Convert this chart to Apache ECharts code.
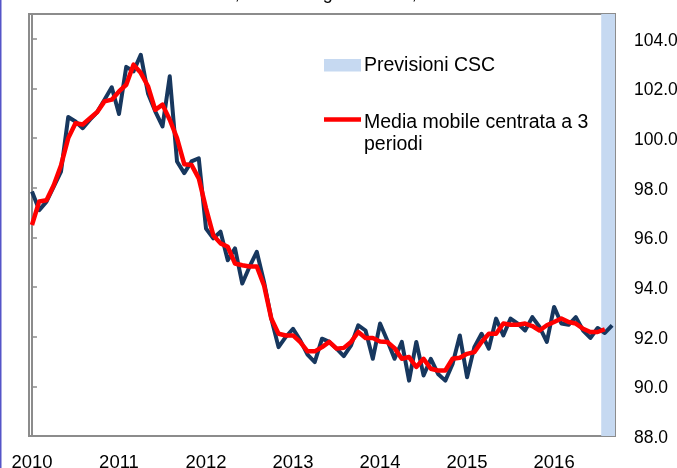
<!DOCTYPE html>
<html><head><meta charset="utf-8">
<script src="https://cdn.jsdelivr.net/npm/echarts@6/dist/echarts.min.js"></script>
<style>html,body{margin:0;padding:0;background:#fff}#c{width:677px;height:468px}</style>
</head><body><div id="c"></div>
<script>
// Month index 0 = Jan 2010
const yearLabels = ['2010','2011','2012','2013','2014','2015','2016'];
const yearTickMonths = [0,12,24,36,48,60,72];
const yTicks = [88,90,92,94,96,98,100,102,104];
const rawIndex = [
97.85,97.1,97.44,98.05,98.65,100.85,100.67,100.4,100.74,101.05,101.55,102.05,
100.97,102.87,102.69,103.36,101.8,101.08,100.47,102.49,99.06,98.59,99.06,99.19,
96.36,95.96,96.23,95.08,95.56,94.14,94.82,95.42,94.21,92.73,91.58,91.99,
92.32,91.85,91.28,90.98,91.92,91.79,91.52,91.22,91.65,92.46,92.25,91.11,
92.53,91.85,91.11,91.79,90.23,91.79,90.44,91.11,90.5,90.23,90.9,92.05,
90.37,91.58,92.12,91.52,92.73,92.05,92.73,92.53,92.25,92.79,92.39,91.79,
93.2,92.53,92.48,92.79,92.25,91.95,92.35,92.15,92.46
];
const movingAvg = [
96.5,97.45,97.5,98.1,98.9,100.0,100.6,100.55,100.8,101.05,101.48,101.55,
101.88,102.15,102.96,102.63,102.09,101.14,101.35,100.74,100.0,98.95,98.92,98.38,
97.17,96.09,95.76,95.62,94.95,94.88,94.83,94.83,94.07,92.73,92.12,92.05,
92.05,91.78,91.41,91.41,91.58,91.79,91.52,91.55,91.79,92.19,91.95,91.95,
91.81,91.79,91.54,91.11,91.18,90.78,91.11,90.71,90.64,90.64,91.11,91.15,
91.31,91.38,91.79,92.12,92.12,92.53,92.48,92.48,92.53,92.43,92.25,92.46,
92.59,92.73,92.59,92.53,92.32,92.19,92.19,92.3
];
const forecastMonths = [79, 80];
const legendNames = ['Previsioni CSC', 'Media mobile centrata a 3\nperiodi'];
const titleText = 'Indice totale, dati destagionalizzati, base 2010=100';

const chart = echarts.init(document.getElementById('c'), null, {renderer:'canvas'});
const rawData = rawIndex.map((v,i)=>[i,v]);
const maData = movingAvg.map((v,i)=>[i,v]);
const xMin = -0.41, xMax = 80.4;

chart.setOption({
  animation:false,
  backgroundColor:'#fff',
  textStyle:{fontFamily:'Liberation Sans, Arial, sans-serif'},
  grid:{left:29,right:62,top:14,bottom:32,show:true,borderColor:'#8c8c8c',borderWidth:2,backgroundColor:'transparent',
    containLabel:false,outerBoundsMode:'none'},
  xAxis:{type:'value',min:xMin,max:xMax,
    axisLine:{show:false},axisTick:{show:false},splitLine:{show:false},
    axisLabel:{customValues:yearTickMonths,formatter:v=>yearLabels[yearTickMonths.indexOf(Math.round(v))]||'',
      color:'#000',fontSize:18.5,margin:17,fontFamily:'Liberation Sans, Arial, sans-serif'}},
  yAxis:{type:'value',position:'right',min:88,max:105,
    axisLine:{show:true,lineStyle:{color:'#8c8c8c',width:2}},
    axisTick:{show:true,customValues:yTicks,length:5,lineStyle:{color:'#8c8c8c',width:1.5}},
    splitLine:{show:false},
    axisLabel:{customValues:yTicks,formatter:v=>v.toFixed(1),color:'#000',fontSize:17.5,margin:19,
      verticalAlign:'top',padding:[-7,0,0,0],fontFamily:'Liberation Sans, Arial, sans-serif'}},
  graphic:[
    {type:'rect',left:0,top:0,shape:{width:1.5,height:468},style:{fill:'#5555c8'},silent:true},
    {type:'text',x:342,y:3.5,style:{text:titleText,fill:'#000',font:'18px "Liberation Sans", Arial, sans-serif',textAlign:'center',textVerticalAlign:'bottom'}},
    {type:'rect',shape:{x:324,y:59,width:37,height:12.5},style:{fill:'#c6d9f1'}},
    {type:'text',x:364,y:66,style:{text:legendNames[0],fill:'#000',font:'19.5px "Liberation Sans", Arial, sans-serif',textVerticalAlign:'middle'}},
    {type:'line',shape:{x1:324,y1:119.5,x2:361,y2:119.5},style:{stroke:'#ff0000',lineWidth:4.5}},
    {type:'text',x:364,y:112,style:{text:legendNames[1],fill:'#000',font:'19.5px "Liberation Sans", Arial, sans-serif',lineHeight:22,textVerticalAlign:'top'}}
  ],
  series:[
    {type:'line',name:'Previsioni CSC',data:[],z:1,silent:true,
      markArea:{silent:true,itemStyle:{color:'#c6d9f1',opacity:1},
        data:[[{xAxis:forecastMonths[0]-0.5},{xAxis:xMax}]]}},
    {type:'line',name:'Indice',data:rawData,symbol:'none',z:3,
      lineStyle:{color:'#17375e',width:4,join:'round'}},
    {type:'line',name:'Media mobile',data:maData,symbol:'none',z:4,
      lineStyle:{color:'#ff0000',width:4.5,join:'round'}}
  ]
});
</script></body></html>
